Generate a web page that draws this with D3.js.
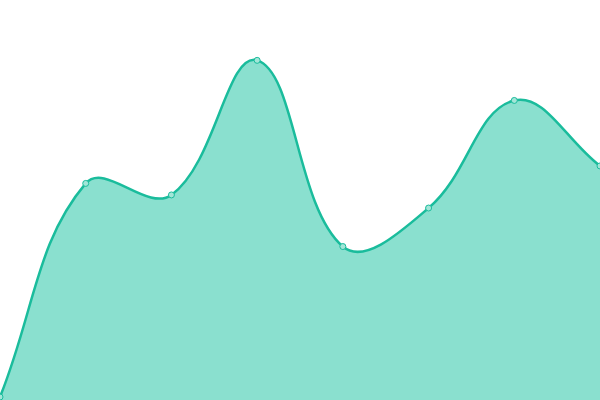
<!DOCTYPE html>
<html>
<head>
<meta charset="utf-8">
<script src="https://cdn.jsdelivr.net/npm/d3@7"></script>
<style>
  body { margin: 0; background: #fff; }
</style>
</head>
<body>
<script>
var width = 600, height = 400;

// one value per step along the x axis
var steps = [0, 1, 2, 3, 4, 5, 6, 7];
var values = [0, 53.8, 50.9, 84.8, 37.9, 47.6, 74.7, 58.2];

var data = steps.map(function(s, i) { return { x: s, y: values[i] }; });

// spline with tension 0.4, control points scaled by distance to the neighbours
var tension = 0.4;
function SplineCurve(context) { this._context = context; }
SplineCurve.prototype = {
  areaStart: function() { this._line = 0; },
  areaEnd: function() { this._line = NaN; },
  lineStart: function() { this._pts = []; },
  point: function(x, y) { this._pts.push([+x, +y]); },
  lineEnd: function() {
    var p = this._pts, n = p.length, c = this._context;
    if (n) {
      this._line ? c.lineTo(p[0][0], p[0][1]) : c.moveTo(p[0][0], p[0][1]);
      var prevC = [], nextC = [];
      p.forEach(function(cur, i) {
        var prev = p[i - 1] || cur, next = p[i + 1] || cur;
        var d01 = Math.hypot(cur[0] - prev[0], cur[1] - prev[1]);
        var d12 = Math.hypot(next[0] - cur[0], next[1] - cur[1]);
        var s = d01 + d12 || 1;
        var fa = tension * d01 / s, fb = tension * d12 / s;
        var dx = next[0] - prev[0], dy = next[1] - prev[1];
        prevC[i] = [clampX(cur[0] - fa * dx), clampY(cur[1] - fa * dy)];
        nextC[i] = [clampX(cur[0] + fb * dx), clampY(cur[1] + fb * dy)];
      });
      for (var i = 1; i < n; i++) {
        c.bezierCurveTo(nextC[i - 1][0], nextC[i - 1][1], prevC[i][0], prevC[i][1], p[i][0], p[i][1]);
      }
    }
    if (this._line || (this._line !== 0 && n === 1)) c.closePath();
    this._line = 1 - this._line;
  }
};
function clampX(v) { return Math.max(0, Math.min(width, v)); }
function clampY(v) { return Math.max(0, Math.min(height, v)); }
var curveSpline = function(context) { return new SplineCurve(context); };

var svg = d3.select("body")
  .append("svg")
  .attr("width", width)
  .attr("height", height);

var x = d3.scaleLinear().domain([0, 7]).range([0, width]);
var y = d3.scaleLinear().domain([0, 100]).range([397, 0]);

var area = d3.area()
  .x(function(d) { return x(d.x); })
  .y0(height)
  .y1(function(d) { return y(d.y); })
  .curve(curveSpline);

var line = d3.line()
  .x(function(d) { return x(d.x); })
  .y(function(d) { return y(d.y); })
  .curve(curveSpline);

svg.append("path")
  .datum(data)
  .attr("d", area)
  .attr("fill", "#8ae0cf");

svg.append("path")
  .datum(data)
  .attr("d", line)
  .attr("fill", "none")
  .attr("stroke", "#1abc9c")
  .attr("stroke-width", 2.5);

svg.selectAll("circle")
  .data(data)
  .enter()
  .append("circle")
  .attr("cx", function(d) { return x(d.x); })
  .attr("cy", function(d) { return y(d.y); })
  .attr("r", 3)
  .attr("fill", "#a3e6d8")
  .attr("stroke", "#1abc9c")
  .attr("stroke-width", 1);
</script>
</body>
</html>
